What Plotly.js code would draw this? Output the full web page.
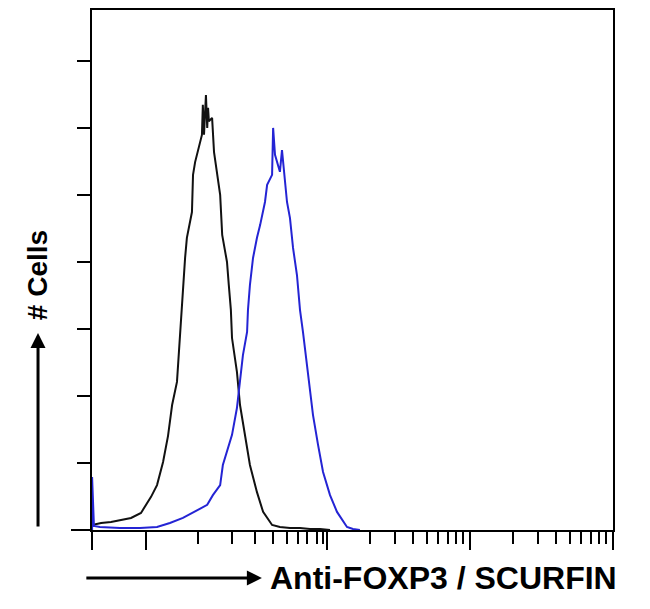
<!DOCTYPE html>
<html>
<head>
<meta charset="utf-8">
<script src="https://cdn.plot.ly/plotly-3.0.1.min.js"></script>
<style>
  html, body { margin: 0; padding: 0; background: #fff; }
  #chart { width: 650px; height: 609px; }
</style>
</head>
<body>
<div id="chart"></div>
<script>
// ---- Data (fluorescence intensity, log scale; # cells) ----
var controlX = [2.31, 2.67, 3.13, 3.67, 4.32, 5.07, 5.96, 6.56, 7.23, 7.83, 8.36, 9.04, 9.49, 9.95,
  10.3, 10.6, 11.5, 11.7, 12.1, 13.5, 13.7, 13.96, 14.2, 14.4, 14.7, 14.9, 15.1, 15.9, 16.4, 17.5,
  18.1, 18.7, 20.2, 20.8, 21.5, 21.9, 23.7, 24.9, 27.0, 29.2, 32.7, 36.1, 41.7, 47.3, 55.6, 65.3,
  76.7, 90.1, 105.8];
var controlY = [1.5, 2.1, 2.4, 3.0, 3.6, 5.1, 9.9, 13.4, 20.3, 28.1, 37.3, 44.2, 59.1, 70,
  81.2, 87.2, 94.9, 106, 109.8, 117.9, 126.9, 118, 128, 129.8, 120, 126, 122, 123, 112.8, 105.1,
  100, 88.1, 80, 73.1, 65.7, 57.3, 47.2, 37.3, 27.5, 19.4, 11.3, 5.4, 1.5, 0.9, 0.6, 0.6,
  0.3, 0.3, 0];

var foxp3X = [2.31, 2.31, 2.38, 2.62, 3.61, 4.99, 6.56, 8.07, 9.95, 12.5, 14.7, 16.1, 18.1, 18.9,
  20.2, 21.9, 23.7, 24.9, 26.1, 27.9, 28.3, 29.2, 30.7, 32.7, 34.4, 37.2, 38.5, 41.7, 42.4, 43.7,
  47.3, 48.9, 51.3, 53.0, 55.6, 58.4, 62.2, 65.3, 68.5, 73.1, 76.7, 80.5, 87.3, 94.6, 105.8,
  118.4, 139, 153, 171];
var foxp3Y = [0, 15.8, 1.2, 0.9, 0.6, 0.6, 0.9, 2.1, 3.6, 6.0, 7.5, 10.4, 13.4, 19.4,
  23.3, 28.4, 36.4, 44.2, 52.2, 59.1, 65.7, 73.1, 81.2, 87.2, 91.0, 97.9, 103, 106, 120, 112,
  106.9, 113.4, 103.9, 97.9, 93.1, 84.2, 76.1, 65.7, 59.1, 49.3, 41.2, 34.3, 25.4, 17.3, 10.4,
  5.4, 0.9, 0.3, 0];

// axis ticks
var xMajorTicks = [2.31, 5.5, 100, 1000, 10000];
var xMinorTicks = [12.7, 21.9, 31.7, 42.4, 53.0, 63.2, 73.1, 85.9, 94.6,
  200, 300, 400, 500, 600, 700, 800, 900,
  2000, 3000, 4000, 5000, 6000, 7000, 8000, 9000];
var yMajorTicks = [0];
var yMinorTicks = [20, 40, 60, 80, 100, 120, 140];

var yLabel = '# Cells';
var xLabel = 'Anti-FOXP3 / SCURFIN';

var traces = [
  { x: controlX, y: controlY, type: 'scatter', mode: 'lines', name: 'Control',
    line: { color: '#111111', width: 2 }, hoverinfo: 'skip' },
  { x: foxp3X, y: foxp3Y, type: 'scatter', mode: 'lines', name: 'Anti-FOXP3',
    line: { color: '#2424d4', width: 2 }, hoverinfo: 'skip' }
];

var labelFont = 'Liberation Sans Narrow, Liberation Sans, Arial, sans-serif';

var layout = {
  width: 650, height: 609,
  margin: { l: 92, r: 37, t: 10, b: 79, pad: 0 },
  paper_bgcolor: '#ffffff', plot_bgcolor: '#ffffff',
  showlegend: false,
  xaxis: {
    type: 'log', range: [0.363, 4.0],
    showgrid: false, zeroline: false,
    showline: true, mirror: true, linecolor: '#000', linewidth: 2,
    tickmode: 'array', tickvals: xMajorTicks, showticklabels: false,
    ticks: 'outside', ticklen: 18, tickwidth: 2, tickcolor: '#000',
    minor: { tickmode: 'array', tickvals: xMinorTicks, ticks: 'outside',
             ticklen: 12, tickwidth: 2, tickcolor: '#000', showgrid: false }
  },
  yaxis: {
    range: [0, 155.2],
    showgrid: false, zeroline: false,
    showline: true, mirror: true, linecolor: '#000', linewidth: 2,
    tickmode: 'array', tickvals: yMajorTicks, showticklabels: false,
    ticks: 'outside', ticklen: 19, tickwidth: 2, tickcolor: '#000',
    minor: { tickmode: 'array', tickvals: yMinorTicks, ticks: 'outside',
             ticklen: 13, tickwidth: 2, tickcolor: '#000', showgrid: false }
  },
  annotations: [
    { xref: 'paper', yref: 'paper', x: -0.1036, y: 0.379, ax: 0, ay: 195,
      text: '', showarrow: true, arrowhead: 2, arrowsize: 1, arrowwidth: 3, arrowcolor: '#000' },
    { xref: 'paper', yref: 'paper', x: -0.1056, y: 0.49, text: '<b>' + yLabel + '</b>',
      textangle: -90, showarrow: false, xanchor: 'center', yanchor: 'middle',
      font: { family: labelFont, size: 28, color: '#000' } },
    { xref: 'paper', yref: 'paper', x: 0.326, y: -0.0923, ax: -177, ay: 0,
      text: '', showarrow: true, arrowhead: 2, arrowsize: 1, arrowwidth: 3, arrowcolor: '#000' },
    { xref: 'paper', yref: 'paper', x: 0.338, y: -0.0923, text: '<b>' + xLabel + '</b>',
      showarrow: false, xanchor: 'left', yanchor: 'middle',
      font: { family: labelFont, size: 32, color: '#000' } }
  ]
};

Plotly.newPlot('chart', traces, layout, { staticPlot: true, displayModeBar: false });
</script>
</body>
</html>
